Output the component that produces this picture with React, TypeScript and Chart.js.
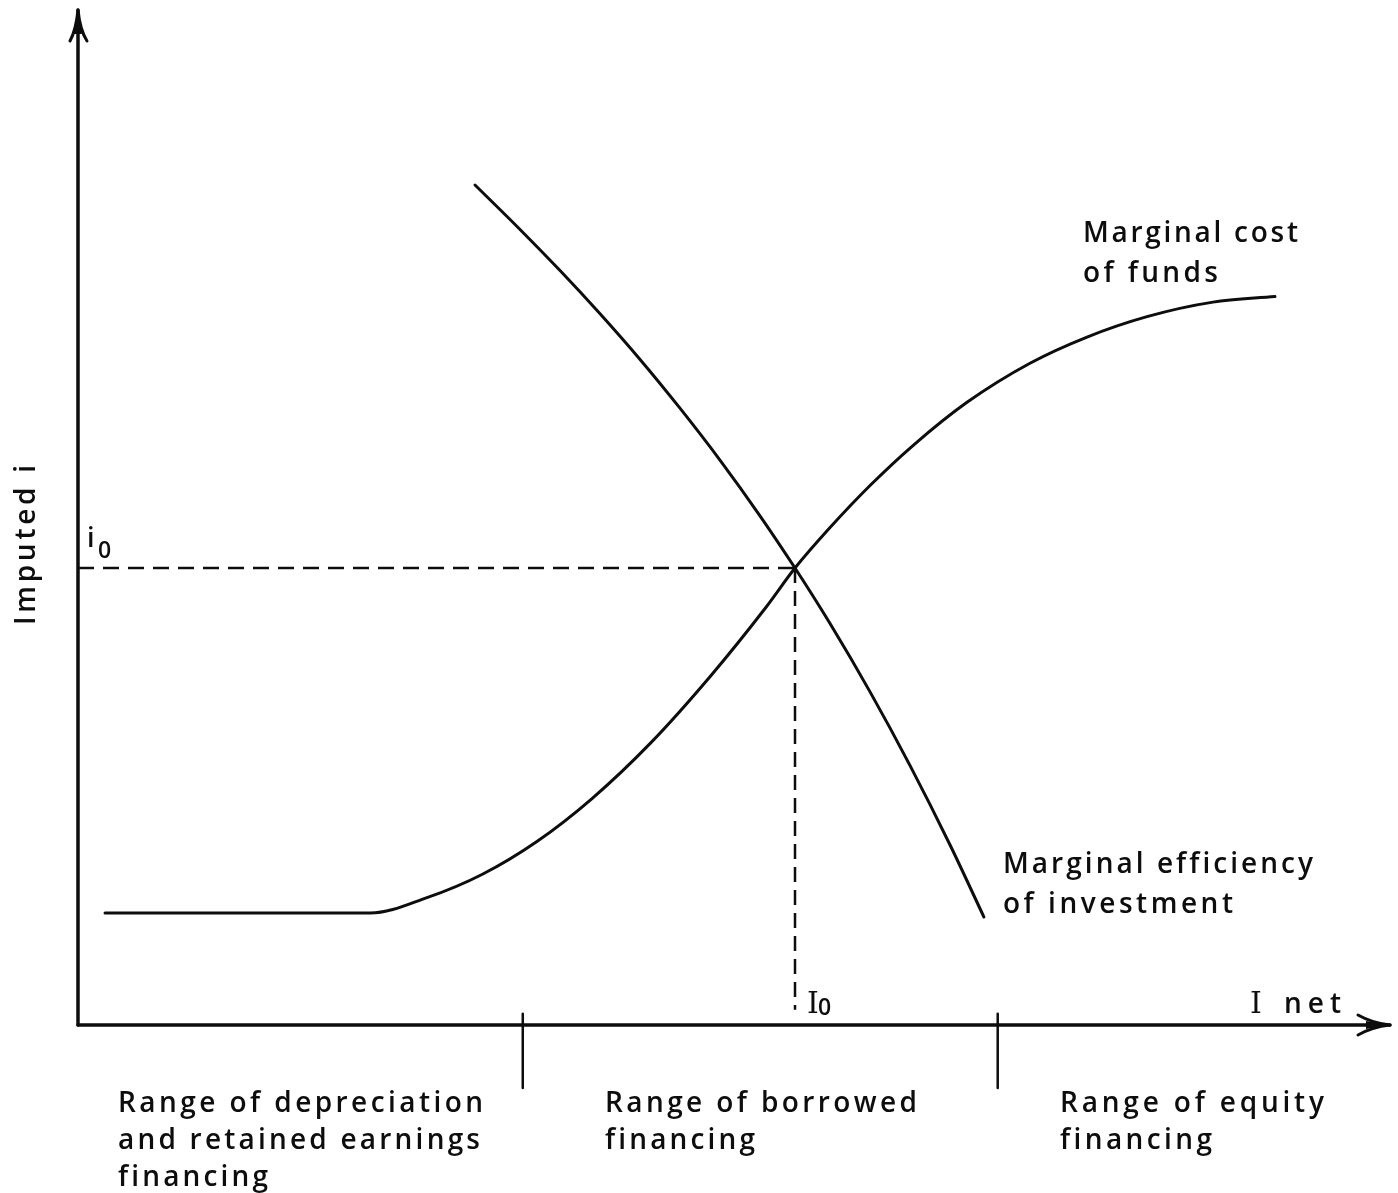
import React, { useEffect, useRef } from "react";
import { Chart, registerables } from "chart.js";

Chart.register(...registerables);

// Marginal efficiency of investment (x = net investment, y = imputed interest)
const mefX = [30.26, 33.69, 36.74, 39.79, 42.84, 45.88, 48.93, 51.98, 54.65, 57.32, 60.37, 63.41, 66.46, 69.05];
const mefY = [82.76, 78.38, 74.33, 70.07, 65.57, 60.77, 55.66, 50.17, 45.02, 39.55, 32.82, 25.58, 17.76, 10.64];

// Marginal cost of funds
const mcfX = [2.06, 13.11, 22.26, 26.6, 30.79, 34.98, 39.18, 43.67, 48.25, 52.44, 54.65, 57.32, 60.37, 63.64, 67.76, 72.56, 76.91, 81.48, 86.51, 91.23];
const mcfY = [11.03, 11.03, 11.03, 12.55, 14.83, 18.08, 22.31, 27.82, 34.44, 41.16, 45.02, 49.01, 53.15, 57.09, 61.35, 65.2, 67.78, 69.79, 71.22, 71.77];

// Equilibrium
const equilibriumI = 54.65;
const equilibriumi = 45.02;

// Financing range boundaries on the I axis
const rangeBounds = [33.9, 70.1];

const rangeLabels = [
  ["Range of depreciation", "and retained earnings", "financing"],
  ["Range of borrowed", "financing"],
  ["Range of equity", "financing"],
];

const curveLabels = {
  mcf: ["Marginal cost", "of funds"],
  mef: ["Marginal efficiency", "of investment"],
};

const axisTitles = { y: "Imputed i", x: "net" };

const pts = (xs: number[], ys: number[]) => xs.map((x, i) => ({ x, y: ys[i] }));

const INK = "#0d0d0d";
const SANS = '"Open Sans", "DejaVu Sans", sans-serif';
const SERIF = '"DejaVu Serif", serif';

function fitText(ctx: CanvasRenderingContext2D, text: string, x: number, y: number, width: number) {
  (ctx as any).letterSpacing = "0px";
  const w = ctx.measureText(text).width;
  const ls = text.length > 1 ? (width - w) / (text.length - 1) : 0;
  (ctx as any).letterSpacing = `${ls}px`;
  ctx.fillText(text, x, y);
  (ctx as any).letterSpacing = "0px";
}

const annotationPlugin = {
  id: "annotations",
  afterDatasetsDraw(chart: any) {
    const ctx: CanvasRenderingContext2D = chart.ctx;
    const xs = chart.scales.x;
    const ys = chart.scales.y;
    const x0 = xs.getPixelForValue(0);
    const y0 = ys.getPixelForValue(0);
    const yTop = ys.getPixelForValue(100);
    const xEnd = xs.getPixelForValue(100);
    ctx.save();
    ctx.strokeStyle = INK;
    ctx.fillStyle = INK;
    ctx.lineWidth = 3;
    ctx.lineCap = "round";
    ctx.lineJoin = "round";

    // y arrow head
    ctx.beginPath();
    ctx.moveTo(x0 - 8, yTop + 31);
    ctx.quadraticCurveTo(x0 - 2, yTop + 20, x0, yTop);
    ctx.quadraticCurveTo(x0 + 2, yTop + 20, x0 + 9, yTop + 31);
    ctx.stroke();
    ctx.beginPath();
    ctx.moveTo(x0, yTop);
    ctx.lineTo(x0 - 4, yTop + 24);
    ctx.lineTo(x0 + 4, yTop + 24);
    ctx.closePath();
    ctx.fill();

    // x arrow head
    ctx.beginPath();
    ctx.moveTo(xEnd - 32, y0 - 10);
    ctx.quadraticCurveTo(xEnd - 18, y0 - 2, xEnd, y0);
    ctx.quadraticCurveTo(xEnd - 18, y0 + 2, xEnd - 32, y0 + 10);
    ctx.stroke();
    ctx.beginPath();
    ctx.moveTo(xEnd, y0);
    ctx.lineTo(xEnd - 24, y0 - 4);
    ctx.lineTo(xEnd - 24, y0 + 4);
    ctx.closePath();
    ctx.fill();

    // Curve labels
    ctx.textBaseline = "alphabetic";
    ctx.textAlign = "left";
    ctx.font = `600 28px ${SANS}`;
    fitText(ctx, curveLabels.mcf[0], 1083, 242, 215);
    fitText(ctx, curveLabels.mcf[1], 1083, 282, 135);
    fitText(ctx, curveLabels.mef[0], 1003, 873, 310);
    fitText(ctx, curveLabels.mef[1], 1003, 913, 230);

    // Range labels
    const rangeX = [118, 605, 1060];
    const rangeW = [
      [365, 362, 150],
      [312, 150],
      [264, 152],
    ];
    rangeLabels.forEach((lines, i) => {
      lines.forEach((t, j) => {
        fitText(ctx, t, rangeX[i], 1112 + j * 37, rangeW[i][j]);
      });
    });

    // y axis title (rotated)
    ctx.save();
    ctx.translate(35, 625);
    ctx.rotate(-Math.PI / 2);
    fitText(ctx, axisTitles.y, 0, 0, 160);
    ctx.restore();

    // i0 label
    const iy = ys.getPixelForValue(equilibriumi);
    ctx.font = `600 27px ${SANS}`;
    ctx.fillText("i", x0 + 9, iy - 21);
    ctx.font = `600 23px ${SANS}`;
    ctx.fillText("0", x0 + 20, iy - 10);

    // I0 label
    const Ix = xs.getPixelForValue(equilibriumI);
    ctx.font = `30px ${SERIF}`;
    ctx.fillText("I", Ix + 12, y0 - 12);
    ctx.font = `600 23px ${SANS}`;
    ctx.fillText("0", Ix + 23, y0 - 10);

    // I net
    ctx.font = `30px ${SERIF}`;
    ctx.fillText("I", 1250, y0 - 12);
    ctx.font = `600 28px ${SANS}`;
    fitText(ctx, axisTitles.x, 1284, y0 - 12, 57);

    ctx.restore();
  },
};

export default function App() {
  const ref = useRef<HTMLCanvasElement | null>(null);

  useEffect(() => {
    document.body.style.margin = "0";
    const canvas = ref.current;
    if (!canvas) return;

    const line = (data: any[], extra: any = {}) => ({
      data,
      showLine: true,
      borderColor: INK,
      borderWidth: 3,
      pointRadius: 0,
      fill: false,
      tension: 0,
      borderCapStyle: "round",
      ...extra,
    });

    const chart = new Chart(canvas, {
      type: "scatter",
      data: {
        datasets: [
          // axes
          line([{ x: 0, y: 0 }, { x: 0, y: 100 }], { borderWidth: 3.5 }),
          line([{ x: 0, y: 0 }, { x: 100, y: 0 }], { borderWidth: 3.5 }),
          // range boundary ticks
          ...rangeBounds.map((b) => line([{ x: b, y: 1.1 }, { x: b, y: -6.2 }], { borderWidth: 2.5 })),
          // dashed guides
          line([{ x: 0, y: equilibriumi }, { x: equilibriumI, y: equilibriumi }], {
            borderWidth: 2.5,
            borderDash: [16, 9],
            borderCapStyle: "butt",
          }),
          line([{ x: equilibriumI, y: equilibriumi }, { x: equilibriumI, y: 1.5 }], {
            borderWidth: 2.5,
            borderDash: [15, 8],
            borderCapStyle: "butt",
          }),
          // curves
          line(pts(mefX, mefY), { cubicInterpolationMode: "monotone" }),
          line(pts(mcfX, mcfY), { cubicInterpolationMode: "monotone" }),
        ],
      },
      options: {
        responsive: false,
        animation: false,
        events: [],
        layout: { padding: 0 },
        plugins: { legend: { display: false }, tooltip: { enabled: false } },
        scales: {
          x: { type: "linear", display: false, min: -5.945, max: 100.61 },
          y: { type: "linear", display: false, min: -16.55, max: 100.985 },
        },
      },
      plugins: [annotationPlugin],
    } as any);

    return () => chart.destroy();
  }, []);

  return (
    <div style={{ width: 1398, height: 1193, background: "#fff" }}>
      <canvas ref={ref} width={1398} height={1193} style={{ display: "block" }} />
    </div>
  );
}
